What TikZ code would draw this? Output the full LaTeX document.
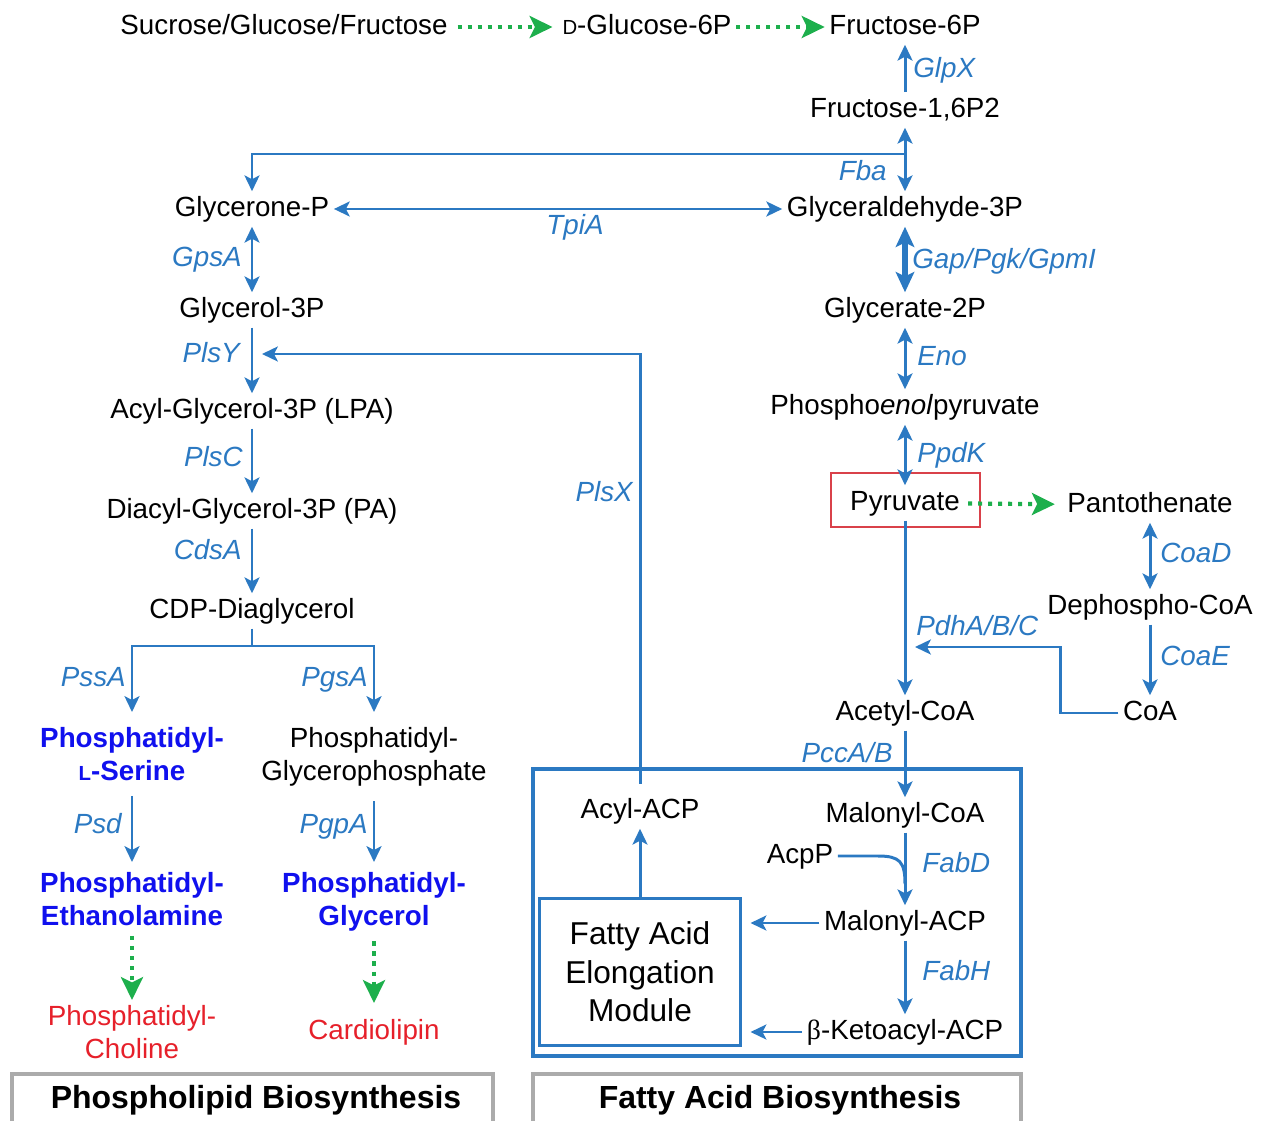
\documentclass[tikz,border=0pt]{standalone}
\usepackage{fontspec}
\setmainfont{Liberation Sans}
\newfontfamily\greekfont{Liberation Serif}
\usetikzlibrary{arrows.meta}
\definecolor{eblue}{HTML}{2B79C2}
\definecolor{bblue}{HTML}{1010EE}
\definecolor{pred}{HTML}{E6202A}
\definecolor{pgreen}{HTML}{1DAF4C}
\definecolor{boxred}{HTML}{D9414A}
\definecolor{bgray}{HTML}{ABABAB}
\newcommand{\fsz}{\fontsize{15.8}{18.7}\selectfont}
\newcommand{\smc}[1]{{\fontsize{11.6}{12}\selectfont #1}}
\tikzset{
  bt/.tip={Stealth[length=9pt,width=8.5pt,inset=2.2pt]},
  bigt/.tip={Stealth[length=11.5pt,width=10.5pt,inset=2.5pt]},
  gt/.tip={Stealth[length=13pt,width=12.5pt,inset=3pt]},
}
\begin{document}
\begin{tikzpicture}[x=0.02cm,y=-0.02cm,
  met/.style={font=\fsz, inner sep=2.5pt, text height=11.5pt, text depth=3.3pt},
  enz/.style={font=\fsz\itshape, text=eblue, inner sep=0pt, text height=11.5pt, text depth=3.3pt},
  ml/.style={font=\fsz, align=center, inner xsep=0pt, anchor=north},
  mlb/.style={ml, font=\fsz\bfseries, text=bblue},
  conn/.style={draw=eblue, line width=1.7pt, -{bt}},
  dconn/.style={draw=eblue, line width=1.7pt, {bt}-{bt}},
  bigconn/.style={draw=eblue, line width=3pt, {bigt}-{bigt}},
  plain/.style={draw=eblue, line width=1.7pt},
  gconn/.style={draw=pgreen, line width=2.4pt, dash pattern=on 2.3pt off 3.4pt, -{gt}},
  title/.style={font=\fontsize{18.2}{20}\selectfont\bfseries, inner sep=0pt, text height=13pt, text depth=3.8pt},
  gbox/.style={draw=bgray, line width=2pt},
]
\useasboundingbox (0,0) rectangle (1261,1121);

% ---- metabolites ----
\node[met] (suc) at (284,27) {Sucrose/Glucose/Fructose};
\node[met] (g6p) at (647,27) {\smc{D}-Glucose-6P};
\node[met] (f6p) at (905,27) {Fructose-6P};
\node[met] (f16p) at (905,110) {Fructose-1,6P2};
\node[met] (g3p) at (905,209) {Glyceraldehyde-3P};
\node[met] (gp) at (252,209) {Glycerone-P};
\node[met] (g2p) at (905,310) {Glycerate-2P};
\node[met] (g3pl) at (252,310) {Glycerol-3P};
\node[met] (lpa) at (252,411) {Acyl-Glycerol-3P (LPA)};
\node[met] (pep) at (905,407) {Phospho\textit{enol}pyruvate};
\node[met] (pyr) at (905,503) {Pyruvate};
\node[draw=boxred, line width=0.9pt, minimum width=84.5pt, minimum height=30.6pt] (pyrbox) at (905.5,500) {};
\node[met] (pant) at (1150,505) {Pantothenate};
\node[met] (pa) at (252,511) {Diacyl-Glycerol-3P (PA)};
\node[met] (dpcoa) at (1150,607) {Dephospho-CoA};
\node[met] (cdp) at (252,611) {CDP-Diaglycerol};
\node[met] (acoa) at (905,713) {Acetyl-CoA};
\node[met] (coa) at (1150,713) {CoA};
\node[met] (acyl) at (640,811) {Acyl-ACP};
\node[met] (mcoa) at (905,815) {Malonyl-CoA};
\node[met] (acpp) at (800,856) {AcpP};
\node[met] (macp) at (905,923) {Malonyl-ACP};
\node[met] (kacp) at (905,1032) {{\greekfont β}-Ketoacyl-ACP};
\node[draw=eblue, line width=1.8pt, minimum width=114pt, minimum height=84pt,
      align=center, font=\fontsize{18}{22}\selectfont] (module) at (640,972)
      {Fatty Acid\\Elongation\\Module};

\node[mlb, inner ysep=8.5pt] (ps) at (132,712) {Phosphatidyl-\\\smc{L}-Serine};
\node[ml, inner ysep=8.5pt] (pgp) at (374,712) {Phosphatidyl-\\Glycerophosphate};
\node[mlb, inner ysep=5.7pt] (pe) at (132,862) {Phosphatidyl-\\Ethanolamine};
\node[mlb, inner ysep=5.7pt] (pg) at (374,862) {Phosphatidyl-\\Glycerol};
\node[ml, text=pred, inner ysep=2.8pt] (pc) at (132,1000) {Phosphatidyl-\\Choline};
\node[ml, text=pred, inner ysep=9pt] (cl) at (374,1003) {Cardiolipin};

% ---- enzymes ----
\node[enz, anchor=west] (eglpx) at (913,70) {GlpX};
\node[enz, anchor=east] (efba) at (887,173) {Fba};
\node[enz] (etpia) at (575,227) {TpiA};
\node[enz, anchor=east] (egpsa) at (242,259) {GpsA};
\node[enz, anchor=west] (egap) at (912,261) {Gap/Pgk/GpmI};
\node[enz, anchor=west] (eeno) at (917,358) {Eno};
\node[enz, anchor=east] (eplsy) at (240,355) {PlsY};
\node[enz, anchor=west] (eppdk) at (917,455) {PpdK};
\node[enz, anchor=east] (eplsc) at (243,459) {PlsC};
\node[enz, anchor=east] (eplsx) at (633,494) {PlsX};
\node[enz, anchor=east] (ecdsa) at (242,552) {CdsA};
\node[enz, anchor=west] (ecoad) at (1160,555) {CoaD};
\node[enz, anchor=west] (epdh) at (916,628) {PdhA/B/C};
\node[enz, anchor=west] (ecoae) at (1160,658) {CoaE};
\node[enz, anchor=east] (epssa) at (126,679) {PssA};
\node[enz, anchor=east] (epgsa) at (368,679) {PgsA};
\node[enz, anchor=east] (epcc) at (893,755) {PccA/B};
\node[enz, anchor=east] (epsd) at (122,826) {Psd};
\node[enz, anchor=east] (epgpa) at (368,826) {PgpA};
\node[enz, anchor=west] (efabd) at (922,865) {FabD};
\node[enz, anchor=west] (efabh) at (922,973) {FabH};

% ---- connectors ----
\draw[gconn, shorten <=3pt, shorten >=3pt] (suc) -- (g6p);
\draw[gconn] (g6p) -- (f6p);
\draw[conn] (f16p) -- (f6p);
\draw[dconn] (f16p) -- (g3p);
\coordinate (fbaj) at (905,154);
\draw[conn] (fbaj) -| (gp);
\draw[dconn] (gp) -- (g3p);
\draw[bigconn] (g3p) -- (g2p);
\draw[dconn] (g2p) -- (pep);
\draw[dconn] (pep) -- (pyr);
\draw[conn] (pyr) -- (acoa);
\draw[gconn, shorten <=2pt, shorten >=4.5pt] (pyr) -- (pant);
\draw[dconn] (pant) -- (dpcoa);
\draw[conn] (dpcoa) -- (coa);
\coordinate (coaturn) at (1060,647);
\coordinate (pdhin) at (915,647);
\draw[conn] (coa) -| (coaturn) -- (pdhin);
\draw[conn] (acoa) -- (mcoa);
\draw[conn] (mcoa) -- (macp);
\draw[plain] (acpp.east) -- (878,856) .. controls (900,856) and (905,862) .. (905,884);
\draw[conn] (macp) -- (kacp);
\draw[conn, shorten >=5pt] (macp) -- (macp -| module.east);
\draw[conn, shorten >=5pt] (kacp) -- (kacp -| module.east);
\draw[conn] (module) -- (acyl);
\coordinate (plsyin) at (262,354);
\draw[conn, shorten <=5.5pt] (acyl) |- (plsyin);

\draw[dconn] (gp) -- (g3pl);
\draw[conn] (g3pl) -- (lpa);
\draw[conn] (lpa) -- (pa);
\draw[conn] (pa) -- (cdp);
\coordinate (split) at (252,646);
\draw[plain] (cdp) -- (split);
\draw[conn] (split) -| (ps);
\draw[conn] (split) -| (pgp);
\draw[conn] (ps) -- (pe);
\draw[conn] (pgp) -- (pg);
\draw[gconn] (pe) -- (pc);
\draw[gconn] (pg) -- (cl);

% ---- boxes ----
\draw[eblue, line width=1.8pt] (533,769) rectangle (1021,1056);
\draw[gbox] (12,1130) -- (12,1074) -- (493,1074) -- (493,1130);
\draw[gbox] (533,1130) -- (533,1074) -- (1021,1074) -- (1021,1130);
\node[title] (tpl) at (256,1100) {Phospholipid Biosynthesis};
\node[title] (tfa) at (780,1100) {Fatty Acid Biosynthesis};
\end{tikzpicture}
\end{document}
